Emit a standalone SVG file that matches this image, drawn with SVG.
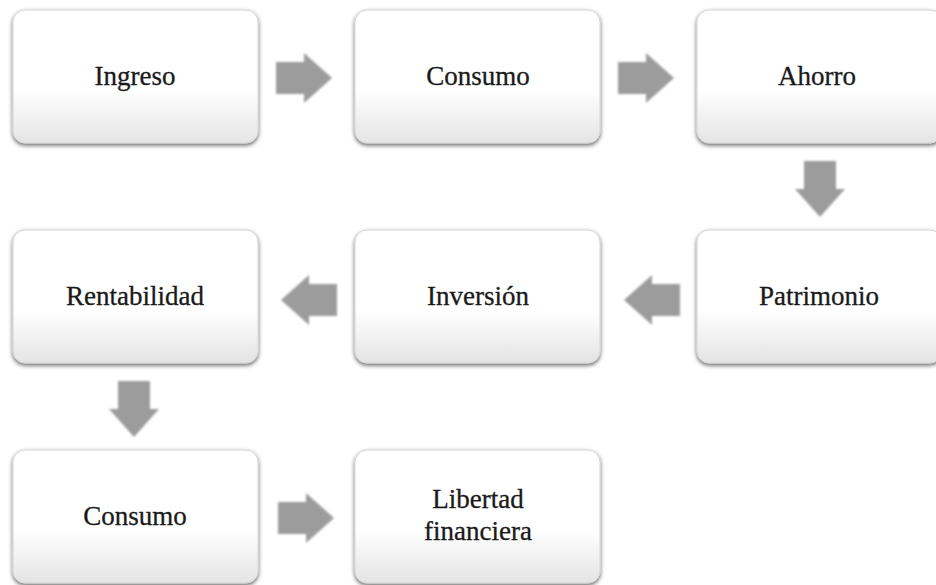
<svg xmlns="http://www.w3.org/2000/svg" width="936" height="585" viewBox="0 0 936 585">
<defs>
<linearGradient id="boxg" x1="0" y1="0" x2="0" y2="1">
<stop offset="0" stop-color="#ffffff"/>
<stop offset="0.6" stop-color="#ffffff"/>
<stop offset="1" stop-color="#e4e4e4"/>
</linearGradient>
<filter id="sh" x="-10%" y="-10%" width="120%" height="125%">
<feGaussianBlur in="SourceAlpha" stdDeviation="2"/>
<feOffset dx="0" dy="2" result="b"/>
<feComponentTransfer><feFuncA type="linear" slope="0.6"/></feComponentTransfer>
<feMerge><feMergeNode/><feMergeNode in="SourceGraphic"/></feMerge>
</filter>
<filter id="ash" x="-20%" y="-20%" width="140%" height="140%">
<feGaussianBlur stdDeviation="1"/>
</filter>
<path id="ar" d="M0,9 L28,9 L28,0 L56,25 L28,50 L28,41 L0,41 Z"/>
</defs>
<style>
.box{fill:url(#boxg);stroke:#d4d4d4;stroke-width:1;filter:url(#sh)}
.t{font-family:"Liberation Serif","Times New Roman",serif;font-size:27px;fill:#1a1a1a;stroke:#1a1a1a;stroke-width:0.3;text-anchor:middle}
.arrow{fill:#9c9c9c;filter:url(#ash)}
</style>
<rect width="936" height="585" fill="#ffffff"/>
<g id="connectors">
<use href="#ar" class="arrow" transform="translate(276,53)"/>
<use href="#ar" class="arrow" transform="translate(618,53)"/>
<use href="#ar" class="arrow" transform="translate(845,161) rotate(90)"/>
<use href="#ar" class="arrow" transform="translate(680,325) rotate(180)"/>
<use href="#ar" class="arrow" transform="translate(337,325) rotate(180)"/>
<use href="#ar" class="arrow" transform="translate(159,381) rotate(90)"/>
<use href="#ar" class="arrow" transform="translate(278,493)"/>
</g>
<g id="n1"><rect class="box" x="13" y="10" width="245" height="133" rx="12"/><text class="t" x="135" y="85">Ingreso</text></g>
<g id="n2"><rect class="box" x="355" y="10" width="245" height="133" rx="12"/><text class="t" x="478" y="85">Consumo</text></g>
<g id="n3"><rect class="box" x="697" y="10" width="245" height="133" rx="12"/><text class="t" x="817" y="85">Ahorro</text></g>
<g id="n4"><rect class="box" x="697" y="230" width="245" height="133" rx="12"/><text class="t" x="819" y="305">Patrimonio</text></g>
<g id="n5"><rect class="box" x="355" y="230" width="245" height="133" rx="12"/><text class="t" x="478" y="305">Inversión</text></g>
<g id="n6"><rect class="box" x="13" y="230" width="245" height="133" rx="12"/><text class="t" x="135" y="305">Rentabilidad</text></g>
<g id="n7"><rect class="box" x="13" y="450" width="245" height="133" rx="12"/><text class="t" x="135" y="525">Consumo</text></g>
<g id="n8"><rect class="box" x="355" y="450" width="245" height="133" rx="12"/><text class="t" x="478" y="508">Libertad</text><text class="t" x="478" y="540">financiera</text></g>
</svg>
